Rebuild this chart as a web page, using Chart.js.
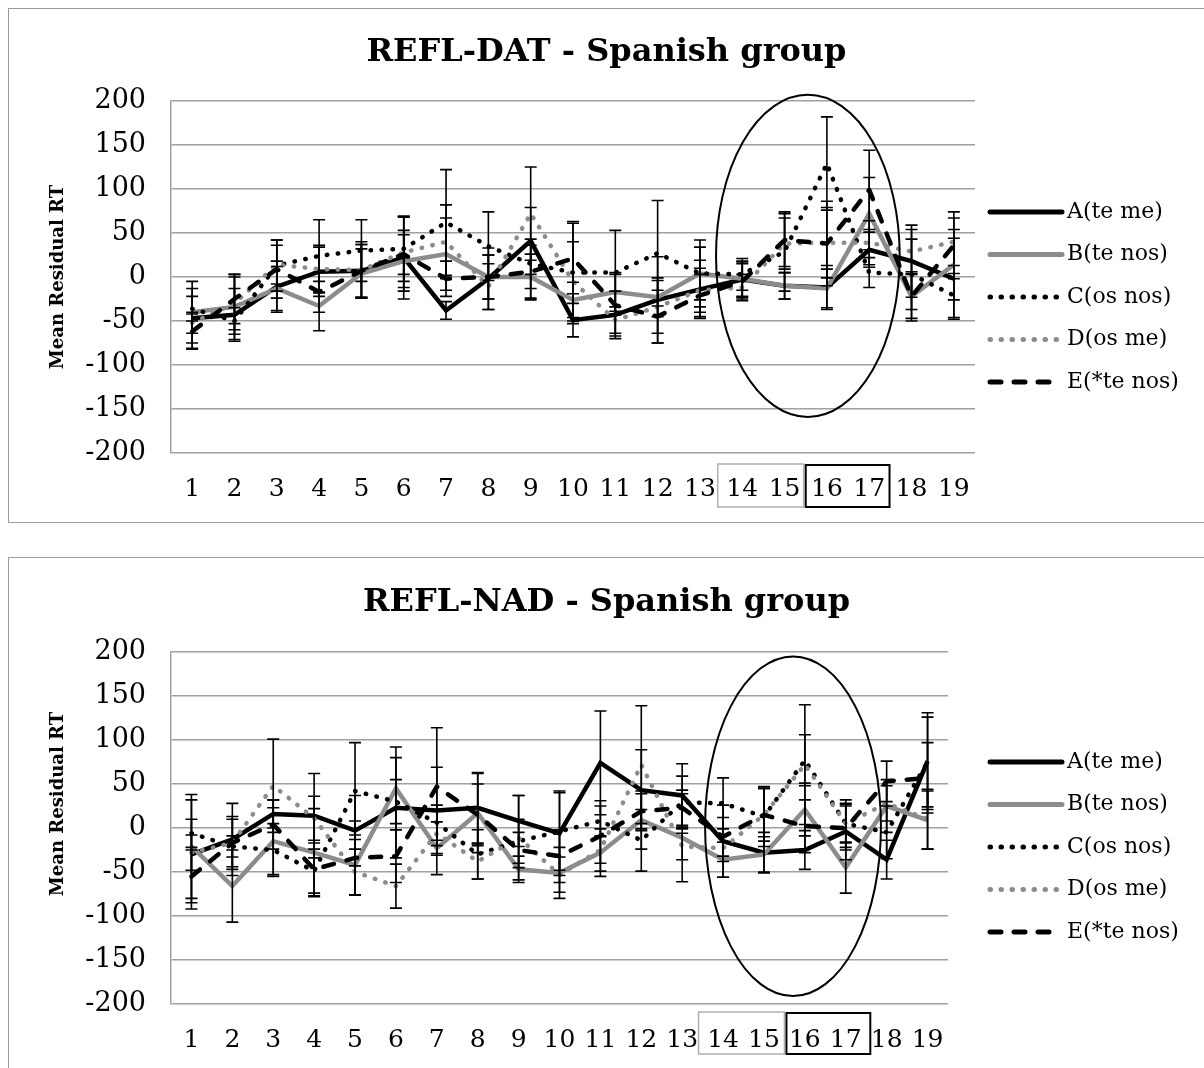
<!DOCTYPE html>
<html>
<head>
<meta charset="utf-8">
<script src="https://cdn.jsdelivr.net/npm/chart.js@4.4.1/dist/chart.umd.min.js"></script>
<style>
  html, body { margin: 0; padding: 0; background: #fff; overflow: hidden; width: 1204px; height: 1068px; }
  .frame { position: absolute; left: 8px; width: 1230px; border: 1px solid #9a9a9a; background: #fff; }
  #f1 { top: 8px; height: 513px; }
  #f2 { top: 557px; height: 530px; }
  canvas { position: absolute; left: 0; top: 0; }
</style>
</head>
<body>
<div class="frame" id="f1"><canvas id="c1" width="1195" height="513"></canvas></div>
<div class="frame" id="f2"><canvas id="c2" width="1195" height="510"></canvas></div>
<script>
// ---------- data ----------
const categories = ['1','2','3','4','5','6','7','8','9','10','11','12','13','14','15','16','17','18','19'];
const seriesNames = ['A(te me)', 'B(te nos)', 'C(os nos)', 'D(os me)', 'E(*te nos)'];
const yAxisTitle = 'Mean Residual RT';
const yMin = -200, yMax = 200, yStep = 50;

// REFL-DAT - Spanish group (means)
const datA = [-47, -43, -11, 6, 7, 22, -38, -2, 41, -49, -43, -26, -14, -3, -10, -12, 31, 18, -2];
const datB = [-40, -34, -13, -33, 4, 18, 26, 0, 0, -26, -17, -23, 4, -2, -10, -13, 72, -22, 14];
const datC = [-36, -50, 13, 24, 30, 32, 62, 35, 15, 5, 5, 27, 4, 3, 29, 129, 5, 3, -21];
const datD = [-52, -30, 14, 9, 8, 28, 40, -11, 72, -5, -49, -34, -15, -12, 38, 39, 39, 29, 40];
const datE = [-62, -25, 9, -17, 7, 26, -2, 0, 6, 21, -32, -45, -21, -5, 42, 38, 99, -22, 36];
// REFL-DAT error bars (+/-)
const datErrA = [34, 30, 29, 28, 30, 47, 10, 35, 38, 19, 27, 49, 33, 20, 15, 25, 20, 41, 46];
const datErrB = [35, 37, 25, 28, 28, 30, 41, 25, 26, 20, 22, 22, 38, 20, 15, 22, 41, 28, 40];
const datErrC = [14, 15, 29, 41, 35, 37, 60, 39, 28, 58, 48, 60, 30, 18, 45, 53, 17, 40, 25];
const datErrD = [12, 30, 22, 27, 32, 25, 42, 26, 53, 45, 15, 30, 25, 15, 29, 40, 25, 25, 27];
const datErrE = [20, 28, 33, 23, 30, 42, 20, 25, 30, 40, 35, 30, 24, 20, 30, 48, 45, 25, 38];

// REFL-NAD - Spanish group (means)
const nadA = [-30, -13, 16, 14, -3, 23, 20, 23, 8, -6, 74, 43, 37, -15, -28, -25, -4, -36, 76];
const nadB = [-21, -66, -15, -28, -42, 45, -23, 17, -47, -51, -28, 9, -11, -36, -30, 21, -45, 25, 9];
const nadC = [-6, -21, -25, -49, 42, 30, 6, -30, -15, -4, 8, -14, 29, 28, 13, 77, 5, -5, 75];
const nadD = [-28, -17, 48, 11, -50, -66, -6, -38, -11, -53, -25, 72, -21, -23, 15, 72, 5, 28, 10];
const nadE = [-55, -17, 4, -47, -34, -32, 47, 15, -25, -32, -9, 19, 23, -10, 15, 2, 0, 53, 57];
// REFL-NAD error bars (+/-)
const nadErrA = [62, 41, 16, 48, 40, 57, 49, 40, 29, 48, 59, 46, 36, 41, 23, 22, 32, 22, 55];
const nadErrB = [59, 41, 38, 50, 34, 47, 30, 45, 15, 29, 27, 33, 50, 20, 20, 30, 29, 30, 33];
const nadErrC = [16, 12, 30, 25, 55, 25, 20, 28, 25, 44, 17, 35, 30, 29, 34, 29, 27, 30, 51];
const nadErrD = [20, 27, 53, 25, 26, 25, 25, 20, 48, 20, 15, 67, 15, 15, 30, 68, 22, 20, 34];
const nadErrE = [30, 30, 28, 30, 42, 30, 67, 35, 20, 30, 40, 20, 20, 22, 30, 30, 25, 23, 40];

// ---------- styles ----------
const GRAY = '#8c8c8c';
const styles = [
  { color: '#000000', dash: [], width: 4.5, cap: 'butt', join: 'miter' },
  { color: GRAY, dash: [], width: 4.5, cap: 'butt', join: 'miter' },
  { color: '#000000', dash: [0.5, 10.5], width: 4.5, cap: 'round', join: 'round' },
  { color: GRAY, dash: [0.5, 10.5], width: 4.5, cap: 'round', join: 'round' },
  { color: '#000000', dash: [11, 13], width: 4.5, cap: 'round', join: 'round' }
];

Chart.defaults.font.family = '"DejaVu Serif", serif';
Chart.defaults.color = '#000';

const errorBarPlugin = {
  id: 'errorBars',
  afterDatasetsDraw(chart) {
    const { ctx, scales: { x, y } } = chart;
    ctx.save();
    ctx.strokeStyle = '#000';
    ctx.lineWidth = 1.6;
    ctx.setLineDash([]);
    chart.data.datasets.forEach((ds) => {
      ds.data.forEach((v, i) => {
        const e = ds.errors[i];
        const px = x.getPixelForValue(i);
        const y1 = y.getPixelForValue(v + e);
        const y2 = y.getPixelForValue(v - e);
        ctx.beginPath();
        ctx.moveTo(px, y1); ctx.lineTo(px, y2);
        ctx.moveTo(px - 6, y1); ctx.lineTo(px + 6, y1);
        ctx.moveTo(px - 6, y2); ctx.lineTo(px + 6, y2);
        ctx.stroke();
      });
    });
    ctx.restore();
  }
};

const annotPlugin = {
  id: 'annot',
  afterDraw(chart, args, o) {
    const { ctx, scales: { x, y }, chartArea } = chart;
    ctx.save();
    // y-axis title (rotated)
    ctx.save();
    ctx.translate(o.yTitle.x, (chartArea.top + chartArea.bottom) / 2 + o.yTitle.dy);
    ctx.rotate(-Math.PI / 2);
    ctx.font = 'bold 18px "DejaVu Serif", serif';
    ctx.fillStyle = '#000'; ctx.textAlign = 'center'; ctx.textBaseline = 'middle';
    ctx.fillText(yAxisTitle, 0, 0);
    ctx.restore();
    // ellipse
    const e = o.ellipse;
    const cx = x.getPixelForValue(e.cx), cy = y.getPixelForValue(e.cy);
    const rx = Math.abs(x.getPixelForValue(e.cx + e.rx) - cx);
    const ry = Math.abs(y.getPixelForValue(e.cy + e.ry) - cy);
    ctx.lineWidth = 2; ctx.strokeStyle = '#000'; ctx.setLineDash([]);
    ctx.beginPath(); ctx.ellipse(cx, cy, rx, ry, 0, 0, Math.PI * 2); ctx.stroke();
    // boxes round tick labels
    o.boxes.forEach(b => {
      const x1 = x.getPixelForValue(b.from), x2 = x.getPixelForValue(b.to);
      ctx.strokeStyle = b.color; ctx.lineWidth = b.width;
      ctx.strokeRect(x1, chartArea.bottom + b.top, x2 - x1, b.bottom - b.top);
    });
    // legend
    const L = o.legend;
    chart.data.datasets.forEach((ds, i) => {
      const st = styles[i];
      const yy = L.y0 + i * L.dy;
      ctx.beginPath();
      ctx.strokeStyle = st.color; ctx.lineWidth = st.width + 0.5;
      ctx.lineCap = st.cap === 'butt' ? 'round' : st.cap;
      ctx.setLineDash(st.dash.length ? st.dash : []);
      ctx.moveTo(L.x0, yy); ctx.lineTo(L.x1, yy); ctx.stroke();
      ctx.setLineDash([]);
      ctx.fillStyle = '#000';
      ctx.font = '22px "DejaVu Serif", serif';
      ctx.textBaseline = 'middle'; ctx.textAlign = 'left';
      ctx.fillText(ds.label, L.tx, yy);
    });
    ctx.restore();
  }
};

function makeChart(id, title, values, errors, cfg) {
  const datasets = values.map((v, i) => ({
    label: seriesNames[i],
    data: v,
    errors: errors[i],
    borderColor: styles[i].color,
    backgroundColor: styles[i].color,
    borderWidth: styles[i].width,
    borderDash: styles[i].dash,
    borderCapStyle: styles[i].cap,
    borderJoinStyle: styles[i].join,
    pointRadius: 0,
    tension: 0,
    fill: false,
    order: 5 - i
  }));
  return new Chart(document.getElementById(id), {
    type: 'line',
    data: { labels: categories, datasets },
    plugins: [errorBarPlugin, annotPlugin],
    options: {
      responsive: false,
      animation: false,
      events: [],
      layout: { padding: 0 },
      plugins: {
        legend: { display: false },
        tooltip: { enabled: false },
        title: {
          display: true, text: title, color: '#000',
          font: { size: 32, weight: 'bold' },
          padding: { top: cfg.titleTop, bottom: cfg.titleBottom }
        },
        annot: cfg.annot
      },
      scales: {
        x: {
          offset: true,
          grid: { display: false },
          border: { display: false },
          ticks: { font: { size: 25 }, color: '#000', padding: 13, maxRotation: 0, autoSkip: false },
          afterFit(s) { s.height = cfg.xHeight; }
        },
        y: {
          min: yMin, max: yMax,
          ticks: { stepSize: yStep, font: { size: 27 }, color: '#000', padding: 25 },
          grid: { color: '#a0a0a0', lineWidth: 1.5, drawTicks: false },
          border: { display: true, color: '#a0a0a0', width: 1.5 },
          afterFit(s) { s.width = 162; }
        },
        ySpace: {
          position: 'right', display: true, min: 0, max: 1,
          grid: { display: false }, border: { display: false },
          ticks: { display: false },
          afterFit(s) { s.width = cfg.rightSpace; }
        }
      }
    }
  });
}

makeChart('c1', 'REFL-DAT - Spanish group',
  [datA, datB, datC, datD, datE],
  [datErrA, datErrB, datErrC, datErrD, datErrE],
  {
    rightSpace: 1195 - 966, titleTop: 24, titleBottom: 29.6, xHeight: 69,
    annot: {
      yTitle: { x: 49, dy: 0 },
      ellipse: { cx: 14.55, cy: 24, rx: 2.17, ry: 183 },
      boxes: [
        { from: 12.42, to: 14.45, color: '#b0b0b0', width: 1.5, top: 11, bottom: 54 },
        { from: 14.5, to: 16.48, color: '#000', width: 2, top: 12, bottom: 54 }
      ],
      legend: { x0: 981, x1: 1053, tx: 1058, y0: 203, dy: 42.5 }
    }
  });

makeChart('c2', 'REFL-NAD - Spanish group',
  [nadA, nadB, nadC, nadD, nadE],
  [nadErrA, nadErrB, nadErrC, nadErrD, nadErrE],
  {
    rightSpace: 1195 - 939, titleTop: 25, titleBottom: 30.6, xHeight: 64,
    annot: {
      yTitle: { x: 49, dy: -24 },
      ellipse: { cx: 14.71, cy: 2, rx: 2.15, ry: 193 },
      boxes: [
        { from: 12.4, to: 14.5, color: '#b0b0b0', width: 1.5, top: 8, bottom: 50 },
        { from: 14.55, to: 16.6, color: '#000', width: 2, top: 9, bottom: 50 }
      ],
      legend: { x0: 981, x1: 1053, tx: 1058, y0: 204, dy: 42.5 }
    }
  });
</script>
</body>
</html>
